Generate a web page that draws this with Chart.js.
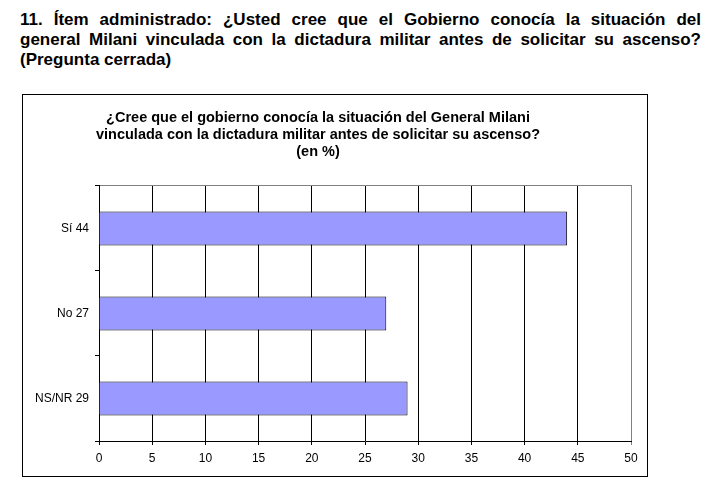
<!DOCTYPE html>
<html>
<head>
<meta charset="utf-8">
<script src="https://cdn.jsdelivr.net/npm/chart.js@4"></script>
<style>
  body { margin: 0; background: #fff; width: 718px; height: 492px; position: relative; overflow: hidden; font-family: "Liberation Sans", Arial, sans-serif; }
  .heading { position: absolute; left: 20px; top: 10px; width: 681px; font-weight: bold; font-size: 17px; line-height: 20px; color: #000; }
  .heading .jl { text-align: justify; text-align-last: justify; white-space: nowrap; }
  .frame { position: absolute; left: 22px; top: 94px; width: 624px; height: 381px; border: 1px solid #000; }
  #chart { position: absolute; left: 0; top: 95px; }
</style>
</head>
<body>
<div class="heading">
  <div class="jl">11. Ítem administrado: ¿Usted cree que el Gobierno conocía la situación del</div>
  <div class="jl">general Milani vinculada con la dictadura militar antes de solicitar su ascenso?</div>
  <div>(Pregunta cerrada)</div>
</div>
<div class="frame"></div>
<canvas id="chart" width="647" height="380"></canvas>
<script>
// data
const categories = ['Sí', 'No', 'NS/NR'];
const percents = [44, 27, 29];
const tickValues = [0, 5, 10, 15, 20, 25, 30, 35, 40, 45, 50];
const titleLines = [
  '¿Cree que el gobierno conocía la situación del General Milani',
  'vinculada con la dictadura militar antes de solicitar su ascenso?',
  '(en %)'
];

const FONT = '"Liberation Sans", Arial, sans-serif';
const labels = categories.map((c, i) => c + ' ' + percents[i]);

new Chart(document.getElementById('chart'), {
  type: 'bar',
  data: {
    labels: labels,
    datasets: [{
      data: percents,
      backgroundColor: '#9999ff',
      borderColor: '#000',
      borderWidth: 1,
      barPercentage: 0.4,
      categoryPercentage: 1
    }]
  },
  options: {
    indexAxis: 'y',
    responsive: false,
    animation: false,
    layout: { padding: { left: 5, right: 16, top: 0, bottom: 4 } },
    plugins: {
      legend: { display: false },
      tooltip: { enabled: false },
      title: {
        display: true,
        text: titleLines,
        color: '#000',
        font: { family: FONT, size: 14.5, weight: 'bold', lineHeight: 1.17 },
        padding: { top: 15, bottom: 25 }
      }
    },
    scales: {
      x: {
        min: tickValues[0],
        max: tickValues[tickValues.length - 1],
        afterBuildTicks: (s) => { s.ticks = tickValues.map(v => ({ value: v })); },
        afterFit: (s) => { s.height = 30; },
        grid: {
          color: (ctx) => ctx.index === tickValues.length - 1 ? '#808080' : '#000',
          lineWidth: 1,
          tickLength: 4
        },
        border: { color: '#000' },
        ticks: { color: '#000', font: { family: FONT, size: 12 }, padding: 6, maxRotation: 0 }
      },
      x2: {
        position: 'top',
        min: 0, max: 50,
        afterFit: (s) => { s.height = 0; },
        grid: { drawOnChartArea: false, drawTicks: false },
        border: { color: '#808080' },
        ticks: { display: false }
      },
      y: {
        offset: true,
        afterFit: (s) => { s.width = 94; },
        grid: { offset: true, drawOnChartArea: false, color: '#000', tickLength: 4 },
        border: { color: '#000' },
        ticks: { color: '#000', font: { family: FONT, size: 12 }, padding: 6 }
      }
    }
  }
});
</script>
</body>
</html>
